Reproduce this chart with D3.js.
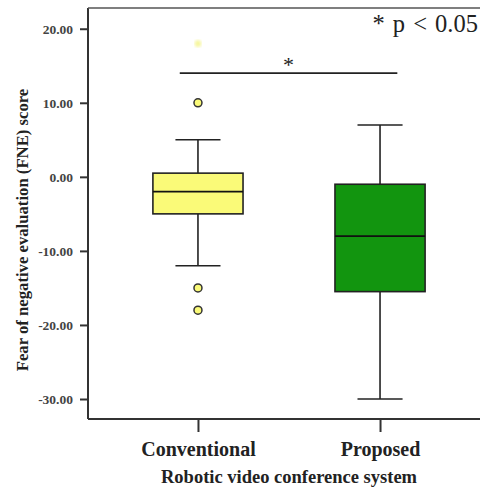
<!DOCTYPE html>
<html>
<head>
<meta charset="utf-8">
<script src="https://cdn.jsdelivr.net/npm/d3@7"></script>
<style>
  html, body { margin: 0; padding: 0; background: #fff; }
  svg { display: block; }
</style>
</head>
<body>
<svg id="chart" width="480" height="488"></svg>
<script>
// Box-plot summaries per group
const categories = ["Conventional", "Proposed"];
const whiskerLow = [-12, -30];
const q1 = [-5, -15.5];
const median = [-2, -8];
const q3 = [0.5, -1];
const whiskerHigh = [5, 7];
const outliers = [[10, -15, -18], []];
const extremes = [[18], []];
const boxFill = ["#fafa78", "#12950f"];
const yTicks = [20, 10, 0, -10, -20, -30];
const sigPair = ["Conventional", "Proposed"];
const sigLevel = 14;

const svg = d3.select("#chart");
const plotLeft = 88, plotTop = 8, plotBottom = 419, plotRight = 490;

const y = d3.scaleLinear().domain([-32.7, 22.8]).range([plotBottom, plotTop]);
const x = d3.scalePoint().domain(categories).range([plotLeft, plotRight]).padding(0.604);
const step = x.step();
const boxW = step * 0.495;
const capW = boxW / 2;

const fmt = d3.formatLocale({decimal: ".", thousands: ",", grouping: [3], currency: ["", ""], minus: "-"}).format(".2f");

const serif = "'Liberation Serif', 'Times New Roman', serif";
const ink = "#222";

// frame: left, top and bottom edges
svg.append("line").attr("x1", plotLeft).attr("x2", plotLeft).attr("y1", plotTop).attr("y2", plotBottom)
  .attr("stroke", "#333").attr("stroke-width", 2);
svg.append("line").attr("x1", plotLeft).attr("x2", plotRight).attr("y1", plotTop).attr("y2", plotTop)
  .attr("stroke", "#555").attr("stroke-width", 1.6);
svg.append("line").attr("x1", plotLeft).attr("x2", plotRight).attr("y1", plotBottom).attr("y2", plotBottom)
  .attr("stroke", "#333").attr("stroke-width", 2);

// y axis
const yAxis = d3.axisLeft(y).tickValues(yTicks).tickFormat(fmt).tickSize(8).tickPadding(7);
const gy = svg.append("g").attr("transform", `translate(${plotLeft},0)`).call(yAxis);
gy.select(".domain").remove();
gy.selectAll(".tick line").attr("stroke", "#333").attr("stroke-width", 2);
gy.selectAll(".tick text").attr("fill", "#444").attr("font-family", serif)
  .attr("font-weight", "bold").attr("font-size", 13.5);

// x axis
const xAxis = d3.axisBottom(x).tickSize(13).tickPadding(8);
const gx = svg.append("g").attr("transform", `translate(0,${plotBottom})`).call(xAxis);
gx.select(".domain").remove();
gx.selectAll(".tick line").attr("stroke", "#333").attr("stroke-width", 2);
gx.selectAll(".tick text").attr("fill", ink).attr("font-family", serif)
  .attr("font-weight", "bold").attr("font-size", 20).attr("dy", "0.8em");

// axis titles
svg.append("text").attr("x", 289).attr("y", 483).attr("text-anchor", "middle")
  .attr("font-family", serif).attr("font-weight", "bold").attr("font-size", 18.5).attr("fill", ink)
  .text("Robotic video conference system");
svg.append("text").attr("transform", "translate(28,230) rotate(-90)").attr("text-anchor", "middle")
  .attr("font-family", serif).attr("font-weight", "bold").attr("font-size", 16.7).attr("fill", ink)
  .text("Fear of negative evaluation (FNE) score");

// boxes
const groups = categories.map((c, i) => ({
  c, lo: whiskerLow[i], q1: q1[i], med: median[i], q3: q3[i], hi: whiskerHigh[i],
  out: outliers[i], ext: extremes[i], fill: boxFill[i]
}));

const g = svg.selectAll("g.box").data(groups).join("g").attr("class", "box");
g.append("line").attr("x1", d => x(d.c)).attr("x2", d => x(d.c))
  .attr("y1", d => y(d.hi)).attr("y2", d => y(d.q3)).attr("stroke", ink).attr("stroke-width", 1.6);
g.append("line").attr("x1", d => x(d.c)).attr("x2", d => x(d.c))
  .attr("y1", d => y(d.q1)).attr("y2", d => y(d.lo)).attr("stroke", ink).attr("stroke-width", 1.6);
g.append("line").attr("x1", d => x(d.c) - capW / 2).attr("x2", d => x(d.c) + capW / 2)
  .attr("y1", d => y(d.hi)).attr("y2", d => y(d.hi)).attr("stroke", ink).attr("stroke-width", 1.6);
g.append("line").attr("x1", d => x(d.c) - capW / 2).attr("x2", d => x(d.c) + capW / 2)
  .attr("y1", d => y(d.lo)).attr("y2", d => y(d.lo)).attr("stroke", ink).attr("stroke-width", 1.6);
g.append("rect").attr("x", d => x(d.c) - boxW / 2).attr("width", boxW)
  .attr("y", d => y(d.q3)).attr("height", d => y(d.q1) - y(d.q3))
  .attr("fill", d => d.fill).attr("stroke", ink).attr("stroke-width", 1.6);
g.append("line").attr("x1", d => x(d.c) - boxW / 2).attr("x2", d => x(d.c) + boxW / 2)
  .attr("y1", d => y(d.med)).attr("y2", d => y(d.med)).attr("stroke", "#111").attr("stroke-width", 1.8);

// outliers
g.selectAll("circle.out").data(d => d.out.map(v => ({c: d.c, v, fill: d.fill}))).join("circle")
  .attr("class", "out").attr("cx", d => x(d.c)).attr("cy", d => y(d.v)).attr("r", 4)
  .attr("fill", d => d.fill).attr("stroke", "#333").attr("stroke-width", 1.5);

// extreme values, faint
const defs = svg.append("defs");
defs.append("filter").attr("id", "soft").append("feGaussianBlur").attr("stdDeviation", 1.4);
g.selectAll("path.ext").data(d => d.ext.map(v => ({c: d.c, v}))).join("path")
  .attr("class", "ext")
  .attr("transform", d => `translate(${x(d.c)},${y(d.v)})`)
  .attr("d", d3.symbol(d3.symbolAsterisk, 36))
  .attr("stroke", "#f4f488").attr("stroke-width", 2.4).attr("fill", "none")
  .attr("opacity", 0.85)
  .attr("filter", "url(#soft)");

// significance bracket
const sx1 = x(sigPair[0]) - step * 0.1, sx2 = x(sigPair[1]) + step * 0.095;
svg.append("line").attr("x1", sx1).attr("x2", sx2).attr("y1", y(sigLevel)).attr("y2", y(sigLevel))
  .attr("stroke", ink).attr("stroke-width", 1.6);
svg.append("text").attr("x", (sx1 + sx2) / 2).attr("y", y(sigLevel) - 1).attr("text-anchor", "middle")
  .attr("font-family", serif).attr("font-size", 22).attr("fill", ink).text("*");

svg.append("text").attr("x", 478).attr("y", 32).attr("text-anchor", "end")
  .attr("font-family", serif).attr("font-size", 24.5).attr("word-spacing", 2).attr("fill", ink)
  .text("* p < 0.05");
</script>
</body>
</html>
